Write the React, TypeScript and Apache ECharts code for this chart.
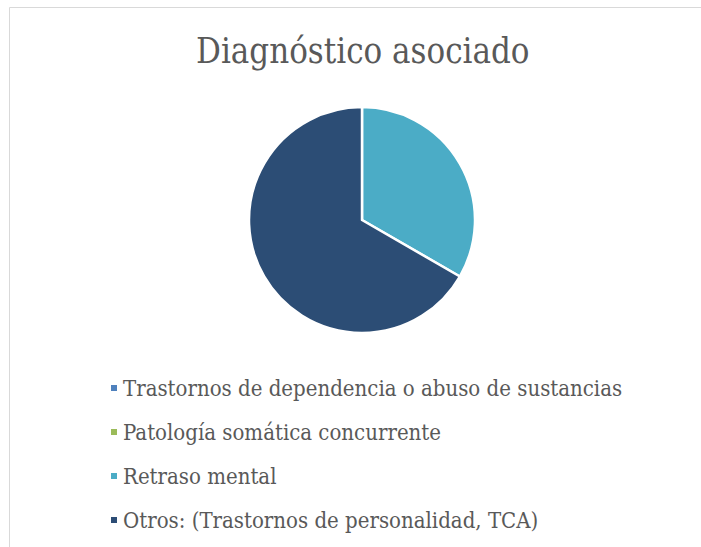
import React, { useEffect, useRef } from "react";
import * as echarts from "echarts";

const categories = [
  "Trastornos de dependencia o abuso de sustancias",
  "Patología somática concurrente",
  "Retraso mental",
  "Otros: (Trastornos de personalidad, TCA)",
];
const values = [0, 0, 1, 2];
const colors = ["#4F81BD", "#9BBB59", "#4BACC6", "#2C4D75"];
const titleText = "Diagnóstico asociado";

const FONT = "'DejaVu Serif Condensed', 'DejaVu Serif', serif";

export default function App() {
  const ref = useRef<HTMLDivElement>(null);
  useEffect(() => {
    if (!ref.current) return;
    const chart = echarts.init(ref.current, undefined, { renderer: "svg" });
    chart.setOption({
      animation: false,
      backgroundColor: "#ffffff",
      color: colors,
      title: {
        text: titleText,
        left: 191,
        top: 28,
        textStyle: {
          fontFamily: FONT,
          fontSize: 34.5,
          fontWeight: "normal",
          color: "#595959",
        },
      },
      graphic: [
        {
          type: "rect",
          shape: { x: 9.5, y: 7.5, width: 900, height: 800 },
          style: { fill: "none", stroke: "#d9d9d9", lineWidth: 1 },
          silent: true,
        },
      ],
      legend: {
        orient: "vertical",
        left: 104,
        top: 372,
        icon: "rect",
        itemWidth: 8,
        itemHeight: 8,
        itemGap: 22,
        data: categories,
        textStyle: {
          fontFamily: FONT,
          fontSize: 22,
          color: "#595959",
          lineHeight: 22,
        },
      },
      series: [
        {
          type: "pie",
          center: [362, 220],
          radius: 113,
          startAngle: 90,
          clockwise: true,
          label: { show: false },
          labelLine: { show: false },
          itemStyle: { borderColor: "#ffffff", borderWidth: 2.5 },
          emphasis: { disabled: true },
          data: categories.map((name, i) => ({ name, value: values[i] })),
        },
      ],
    });
    return () => chart.dispose();
  }, []);
  return (
    <div
      ref={ref}
      style={{ position: "absolute", left: 0, top: 0, width: 701, height: 547 }}
    />
  );
}
